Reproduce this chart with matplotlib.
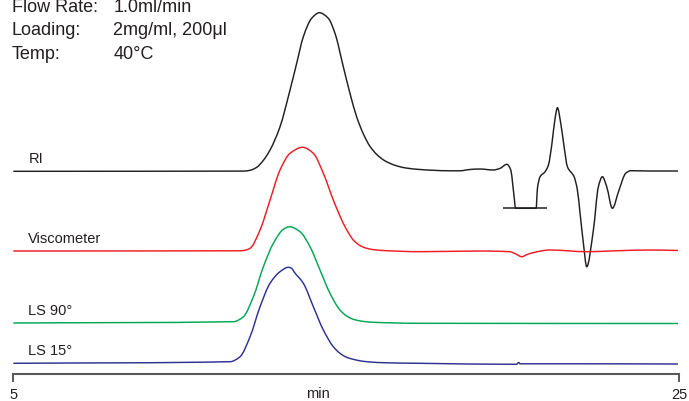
import matplotlib
matplotlib.use("Agg")
import matplotlib.pyplot as plt
import numpy as np
from matplotlib.path import Path
from matplotlib.patches import PathPatch

plt.rcParams['font.family'] = ['Liberation Sans', 'DejaVu Sans']

# ---------------- data (time in min, signal in arbitrary units above baseline) -------------
ri_t = [5.0, 11.91, 12.11, 12.31, 12.51, 12.71, 13.01, 13.31, 13.51, 13.71, 13.96, 14.19,
        14.46, 14.66, 14.91, 15.11, 15.31, 15.51, 15.71, 15.91, 16.11, 16.31, 16.56, 16.81,
        17.21, 17.61, 18.11, 18.41, 18.71, 19.01, 19.41,
        19.61, 19.82, 19.94, 20.0, 20.05, 20.08, 20.70, 20.74, 20.82, 20.97, 21.07, 21.17,
        21.27, 21.34, 21.44, 21.54, 21.64, 21.84, 21.94, 22.02, 22.12, 22.22, 22.42, 22.57,
        22.69, 22.82, 22.99, 23.19, 23.39, 23.54, 24.12, 24.96]
ri_s = [0, 0.2, 1.0, 4.0, 11.0, 21.3, 44.6, 81.3, 108, 134.6, 153, 158.6,
        153, 138, 104.6, 78, 54.6, 37.5, 25, 17, 11.5, 8, 5, 3.2,
        1.8, 1.0, 0.5, 0.5, 1.8, 2.3, 1.3,
        2.8, 7, 1.3, -13.7, -28.7, -37, -37, -17, -5.4, -0.4, 6.3, 26.3,
        53, 63.6, 48, 24.6, 4.6, -5.4, -18.7, -42, -72, -95.4, -58.7, -15.4,
        -5.4, -15.4, -37, -18.7, -2, 0.6, 0.3, 0.3]
ri_clip_t = [19.70, 21.02]
ri_clip_s = -37

visc_t = [5.0, 11.81, 11.96, 12.11, 12.41, 12.71, 13.01, 13.31, 13.69, 14.01, 14.31, 14.61,
          14.91, 15.06, 15.21, 15.41, 15.61, 15.91, 16.21, 17.21, 19.01, 19.91, 20.09, 20.27,
          20.43, 20.61, 21.11, 22.22, 22.92, 24.12, 24.96]
visc_s = [0, 0.2, 0.8, 2.7, 21, 51, 81, 97.7, 103.7, 97.7, 77.7, 51,
          27.7, 18.5, 11, 5.5, 2.7, 1.0, 0.3, -0.7, 0, -0.7, -3, -5.7,
          -3.5, -1.7, 1, -0.7, 0, 1, 0.5]

ls90_t = [5.0, 11.61, 11.91, 12.21, 12.51, 12.81, 13.11, 13.29, 13.61, 13.91, 14.21, 14.51,
          14.81, 15.01, 15.21, 15.51, 15.81, 17.21, 24.96]
ls90_s = [0, 1.3, 6.3, 26.3, 56.3, 79.7, 93.7, 96.3, 91.3, 76.3, 53, 29.7,
          13, 7, 3.7, 1.6, 0.7, -0.3, -0.5]

ls15_t = [5.0, 11.51, 11.81, 12.11, 12.41, 12.71, 13.01, 13.26, 13.36, 13.43, 13.71, 14.01,
          14.31, 14.61, 14.81, 15.01, 15.31, 15.61, 16.21, 17.21, 20.11, 20.18, 20.22,
          22.02, 24.96]
ls15_s = [0, 1.6, 6.6, 26.6, 56.6, 80, 91.6, 96, 95, 91.5, 80, 56.6,
          33.3, 16.6, 10, 6, 3.2, 1.6, 0.5, 0, -1, 0.8, -0.5,
          -0.5, -0.7]

trace_names = ['RI', 'Viscometer', 'LS 90°', 'LS 15°']
x_ticks = [5, 25]
x_tick_labels = ['5', '25']
x_label = 'min'
info_keys = ['Flow Rate:', 'Loading:', 'Temp:']
info_vals = ['1.0ml/min', '2mg/ml, 200\u03bcl', '40\u00b0C']

# ---------------- layout / style -------------
W, H = 689, 401
offsets = [202.7, 123.0, 51.0, 10.7]
colors = ['#231f20', '#ed1c24', '#00a651', '#2e3192']


def smooth_path(x, y):
    """Bezier path through the points (monotone cubic tangents, no overshoot)."""
    x = np.asarray(x, float)
    y = np.asarray(y, float)
    h = np.diff(x)
    d = np.diff(y) / h
    n = len(x)
    m = np.zeros(n)
    m[0], m[-1] = d[0], d[-1]
    for k in range(1, n - 1):
        if d[k - 1] * d[k] <= 0:
            m[k] = 0.0
        else:
            w1 = 2 * h[k] + h[k - 1]
            w2 = h[k] + 2 * h[k - 1]
            m[k] = (w1 + w2) / (w1 / d[k - 1] + w2 / d[k])
    verts = [(x[0], y[0])]
    codes = [Path.MOVETO]
    for k in range(n - 1):
        verts += [(x[k] + h[k] / 3, y[k] + m[k] * h[k] / 3),
                  (x[k + 1] - h[k] / 3, y[k + 1] - m[k + 1] * h[k] / 3),
                  (x[k + 1], y[k + 1])]
        codes += [Path.CURVE4] * 3
    return Path(verts, codes)


fig = plt.figure(figsize=(W / 100, H / 100), dpi=100)
ax = fig.add_axes([13.3 / W, (H - 374) / H, 666 / W, 374 / H])
ax.set_xlim(5, 25)
ax.set_ylim(0, 374)
ax.patch.set_alpha(0)

series = [(ri_t, ri_s), (visc_t, visc_s), (ls90_t, ls90_s), (ls15_t, ls15_s)]
for (t, s), off, c in zip(series, offsets, colors):
    p = smooth_path(t, [v + off for v in s])
    ax.add_patch(PathPatch(p, fill=False, edgecolor=c, lw=1.05, joinstyle='round',
                           capstyle='butt', clip_on=False))

ax.hlines(ri_clip_s + offsets[0], ri_clip_t[0], ri_clip_t[1], color=colors[0], lw=1.1)

label_y = [211.3, 131.3, 59.0, 19.0]
for name, y in zip(trace_names, label_y):
    ax.text(5.45, y, name, fontsize=10.5, color='#231f20', va='baseline', ha='left')

for sp in ['top', 'left', 'right']:
    ax.spines[sp].set_visible(False)
ax.spines['bottom'].set_color('#58595b')
ax.spines['bottom'].set_linewidth(1.5)
ax.set_yticks([])
ax.set_xticks(x_ticks)
ax.set_xticklabels(x_tick_labels, fontsize=10.5, color='#231f20')
ax.tick_params(axis='x', direction='out', length=5.8, width=1.4, color='#58595b', pad=4)
ax.text(14.15, -24.0, x_label, fontsize=10.5, color='#231f20', ha='center', va='baseline')

for i, (k, v) in enumerate(zip(info_keys, info_vals)):
    yb = 1 - (11.7 + 23.6 * i) / H
    fig.text(11.7 / W, yb, k, fontsize=13, color='#231f20', va='baseline', ha='left')
    fig.text(113.3 / W, yb, v, fontsize=13, color='#231f20', va='baseline', ha='left')

fig.savefig('out.png', dpi=100)
